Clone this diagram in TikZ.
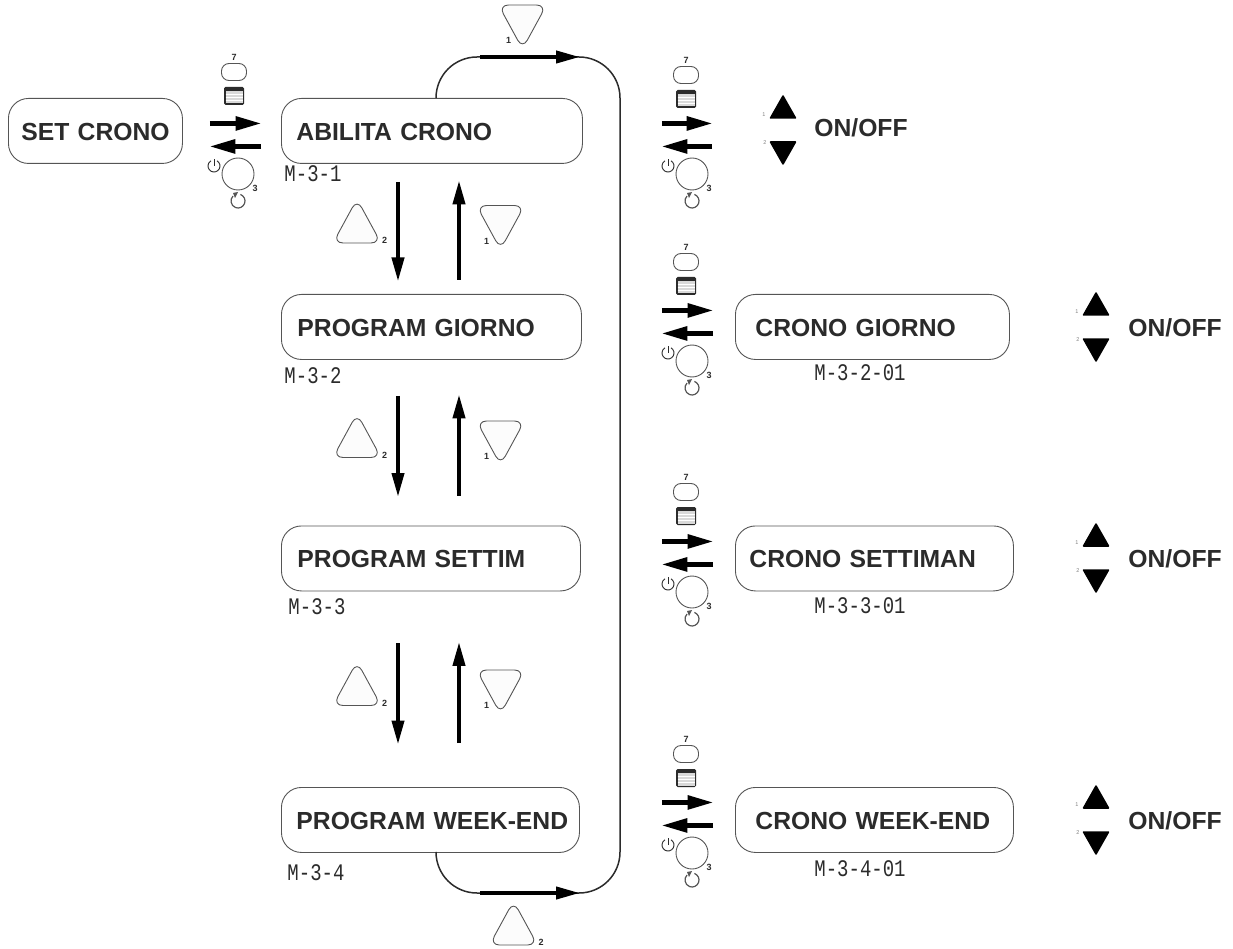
\documentclass[tikz,border=0pt]{standalone}
\usepackage{fontspec}
\setmainfont{Liberation Sans}
\newfontfamily\lcdfont{Liberation Mono}
\usetikzlibrary{arrows.meta}
\definecolor{inkgrey}{HTML}{2B2B2B}
\definecolor{rimgrey}{HTML}{555555}
\tikzset{
  panel/.style 2 args={draw=rimgrey, line width=0.9pt, rounded corners=20pt, anchor=north west,
    text width=#1pt, minimum height=65pt, inner xsep=0pt, inner ysep=0pt, align=left, text=inkgrey,
    text height=19pt, text depth=0pt,
    font=\fontsize{24.7}{28}\selectfont\bfseries, execute at begin node={\hspace*{#2pt}}},
  lcd/.style={text=inkgrey, inner sep=0pt, font=\lcdfont\fontsize{19}{20}\selectfont, yscale=1.25, transform shape},
  onofftext/.style={text=inkgrey, inner sep=0pt, font=\fontsize{24.7}{28}\selectfont\bfseries},
  keynum/.style={text=inkgrey, inner sep=0pt, font=\fontsize{9}{10}\selectfont\bfseries},
  tinynum/.style={text=gray, inner sep=0pt, font=\fontsize{5.5}{6}\selectfont},
  fatarrow/.style={line width=5.5pt, black, -{Triangle[length=27pt,width=13pt]}},
  midarrow/.style={line width=4pt, black, -{Triangle[length=24pt,width=12pt]}},
  loopline/.style={line width=1.5pt, inkgrey, rounded corners=41pt},
  softkey/.style={draw=rimgrey, line width=0.9pt, fill=black!1, rounded corners=10pt},
  keyup/.pic={
    \draw[softkey] (-24,19.5) -- (24,19.5) -- (0,-24.5) -- cycle;
    \node[keynum] (-num) at (27.5,17) {2};
  },
  keydown/.pic={
    \draw[softkey] (-24,-19.5) -- (24,-19.5) -- (0,24.5) -- cycle;
    \node[keynum] (-num) at (-14,16) {1};
  },
  updown/.pic={
    \fill[draw, line width=1.5pt, line join=round] (-12.5,-12) -- (12.5,-12) -- (0,-34) -- cycle;
    \fill[draw, line width=1.5pt, line join=round] (-12.5,12) -- (12.5,12) -- (0,34) -- cycle;
    \node[tinynum] (-one) at (-19,-15) {1};
    \node[tinynum] (-two) at (-18,13) {2};
  },
  keypadtop/.pic={
    \node[keynum] (-seven) at (0,-63) {7};
    \draw[rimgrey, line width=0.9pt, rounded corners=7.5pt] (-12.5,-56.5) rectangle (12.5,-39.5);
    \fill[inkgrey, rounded corners=1.5pt] (-10,-33) rectangle (10,-15);
    \fill[black!15] (-8.5,-29) rectangle (8.5,-16.5);
    \foreach \k in {-26,-23,-20} {
      \draw[white, line width=0.6pt] (-8.5,\k) -- (8.5,\k);
    }
  },
  keypadbot/.pic={
    \draw[rimgrey, line width=0.9pt] (5,51) circle (16);
    \node[keynum] (-three) at (22,65) {3};
    \draw[inkgrey, line width=0.9pt] (-19,43) ++(-60:6) arc (-60:240:6);
    \draw[inkgrey, line width=0.9pt] (-19,43) -- ++(0,-7);
    \draw[rimgrey, line width=1.2pt] (5,78) ++(-70:7) arc (-70:225:7);
    \fill[rimgrey] (0,70) -- (5,69) -- (2,75) -- cycle;
  }
}
\begin{document}
\begin{tikzpicture}[x=1pt, y=-1pt]
  \useasboundingbox (0,0) rectangle (1233,949);

  % menu column
  \node[panel={174}{13}] (setcrono) at (8,98) {SET CRONO};
  \node[panel={301}{15}] (abilita) at (281,98) {ABILITA CRONO};
  \node[panel={300}{16}] (giorno) at (281,294) {PROGRAM GIORNO};
  \node[panel={299}{16}] (settim) at (281,525.5) {PROGRAM SETTIM};
  \node[panel={298}{15}] (weekend) at (281,787) {PROGRAM WEEK-END};

  % sub menu column
  \node[panel={274}{20}] (crgiorno) at (735,294) {CRONO GIORNO};
  \node[panel={278}{14}] (crsettim) at (735,525.5) {CRONO SETTIMAN};
  \node[panel={278}{20}] (crweekend) at (735,787) {CRONO WEEK-END};

  \node[onofftext] (onoffa) at (861,128) {ON/OFF};
  \node[onofftext] (onoffb) at (1175,328) {ON/OFF};
  \node[onofftext] (onoffc) at (1175,559) {ON/OFF};
  \node[onofftext] (onoffd) at (1175,821) {ON/OFF};

  \node[lcd] (lcdabilita) at (313,174) {M-3-1};
  \node[lcd] (lcdgiorno) at (313,376) {M-3-2};
  \node[lcd] (lcdsettim) at (317,607) {M-3-3};
  \node[lcd] (lcdweekend) at (316,873) {M-3-4};
  \node[lcd] (lcdcrgiorno) at (860,373) {M-3-2-01};
  \node[lcd] (lcdcrsettim) at (860,606) {M-3-3-01};
  \node[lcd] (lcdcrweekend) at (860,869) {M-3-4-01};

  % arrows in and out of each panel
  \foreach \from/\to/\lgap/\rgap/\up/\dn in {setcrono/abilita/27/20/7.5/-15.5,
      abilita/onoffa/79/102/7.5/-15.5, giorno/crgiorno/80/22/16.5/-6.5,
      settim/crsettim/81/22/17/-6, weekend/crweekend/82/22/17.5/-5.5} {
    \draw[fatarrow, shorten <=\lgap pt, shorten >=\rgap pt-1.5pt]
      ([yshift=\up pt]\from.east) -- ([yshift=\up pt]\from.east -| \to.west);
    \draw[fatarrow, shorten <=\rgap pt, shorten >=\lgap pt-1.5pt]
      ([yshift=\dn pt]\from.east -| \to.west) -- ([yshift=\dn pt]\from.east);
  }

  \foreach \name/\x/\ytop in {set/234/120, abilita/686/123, giorno/686/310, settim/686/540, weekend/686/802} {
    \pic (top\name) at (\x,\ytop) {keypadtop};
  }
  \foreach \name/\x/\ybot in {set/233/123, abilita/687/123, giorno/687/310, settim/687/541, weekend/687/802} {
    \pic (bot\name) at (\x,\ybot) {keypadbot};
  }

  % up and down between the panels
  \coordinate (downx) at (398,0);
  \coordinate (upx) at (459,0);
  \foreach \upper/\lower/\ugap/\lgap in {abilita/giorno/18/14, giorno/settim/36/30, settim/weekend/52/44} {
    \draw[midarrow, shorten <=\ugap pt, shorten >=\lgap pt-1.5pt] (\upper.south -| downx) -- (\lower.north -| downx);
    \draw[midarrow, shorten <=\lgap pt, shorten >=\ugap pt-1.5pt] (\lower.north -| upx) -- (\upper.south -| upx);
  }

  \pic (upa) at (357,223.5) {keyup};
  \pic (downa) at (500.5,225) {keydown};
  \pic (upb) at (357,438) {keyup};
  \pic (downb) at (500.5,440.5) {keydown};
  \pic (upc) at (357,686) {keyup};
  \pic (downc) at (500.5,689.5) {keydown};

  % outer loop
  \coordinate (loopx) at (436,0);
  \coordinate (loopnw) at (436,57);
  \coordinate (loopne) at (620,57);
  \coordinate (loopse) at (620,893);
  \coordinate (loopsw) at (436,893);
  \coordinate (topin) at (480,57);
  \coordinate (topout) at (580,57);
  \coordinate (botin) at (480,893);
  \coordinate (botout) at (580,893);
  \draw[loopline] (abilita.north -| loopx) -- (loopnw) -- (loopne) -- (loopse) -- (loopsw) -- (weekend.south -| loopx);
  \draw[midarrow] (topin) -- (topout);
  \draw[midarrow] (botin) -- (botout);

  \pic (downtop) at (522.5,24.5) {keydown};
  \pic (upbot) at (513.5,925.5) {keyup};

  \pic (pada) at (783,130) {updown};
  \pic (padb) at (1096,327) {updown};
  \pic (padc) at (1096,558) {updown};
  \pic (padd) at (1096,820) {updown};
\end{tikzpicture}
\end{document}
